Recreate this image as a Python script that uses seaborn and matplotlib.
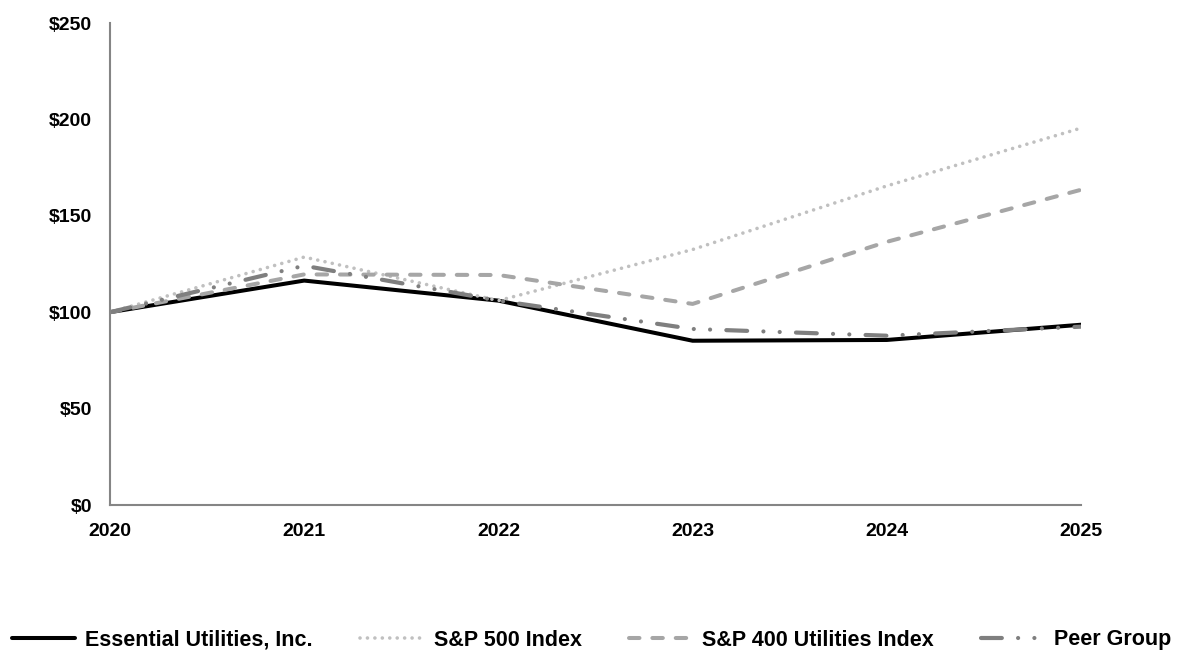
import matplotlib
matplotlib.use("Agg")
import matplotlib.pyplot as plt
import seaborn as sns
import pandas as pd

years = [2020, 2021, 2022, 2023, 2024, 2025]
essential = [100, 116.4, 106.0, 85.2, 85.6, 93.5]
sp500 = [100, 128.6, 106.0, 132.5, 165.5, 195.5]
sp400_util = [100, 119.6, 119.3, 104.3, 136.5, 163.5]
peer_group = [100, 124.1, 106.0, 91.3, 87.8, 92.5]

series_names = ["Essential Utilities, Inc.", "S&P 500 Index",
                "S&P 400 Utilities Index", "Peer Group"]

df = pd.DataFrame({
    "Year": years * 4,
    "Value": essential + sp500 + sp400_util + peer_group,
    "Series": sum([[n] * len(years) for n in series_names], []),
})

sns.set_style("white")
plt.rcParams["font.family"] = ["Liberation Sans", "DejaVu Sans"]
plt.rcParams["font.weight"] = "bold"
plt.rcParams["text.color"] = "black"

fig = plt.figure(figsize=(11.84, 6.56), dpi=100)
ax = fig.add_axes([110 / 1184, 1 - 505 / 656, (1081 - 110) / 1184, (505 - 23) / 656])

styles = {
    "Essential Utilities, Inc.": dict(color="black", linewidth=2.9, linestyle="-"),
    "S&P 500 Index": dict(color="#c0c0c0", linewidth=2.6, linestyle=(0, (0.01, 2.05)),
                          dash_capstyle="round"),
    "S&P 400 Utilities Index": dict(color="#a6a6a6", linewidth=2.9, linestyle=(0, (2.6, 3.2)),
                                    dash_capstyle="round"),
    "Peer Group": dict(color="#7f7f7f", linewidth=3.0,
                       linestyle=(0, (5.0, 3.9, 0.01, 3.9, 0.01, 3.9)),
                       dash_capstyle="round"),
}

for name in series_names:
    sub = df[df["Series"] == name]
    sns.lineplot(data=sub, x="Year", y="Value", ax=ax, label=name, **styles[name])

ax.set_xlim(2020, 2025)
ax.set_ylim(0, 250)
ax.set_yticks([0, 50, 100, 150, 200, 250])
ax.set_yticklabels([f"${v}" for v in [0, 50, 100, 150, 200, 250]],
                   fontsize=14, fontweight="bold")
ax.set_xticks(years)
ax.set_xticklabels([str(y) for y in years], fontsize=14, fontweight="bold")
ax.set_xlabel("")
ax.set_ylabel("")

for side in ["top", "right"]:
    ax.spines[side].set_visible(False)
for side in ["left", "bottom"]:
    ax.spines[side].set_color("#858585")
    ax.spines[side].set_linewidth(1.5)

ax.tick_params(axis="y", direction="out", length=5, width=1.5, color="#858585",
               labelcolor="black", pad=8)
ax.tick_params(axis="x", direction="in", length=6, width=1.5, color="#858585",
               labelcolor="black", pad=13)

handles, labels = ax.get_legend_handles_labels()
ax.get_legend().remove()
leg = fig.legend(handles, labels, loc="center", bbox_to_anchor=(0.5, 1 - 640 / 656), ncol=4,
                 frameon=False, handlelength=2.9, columnspacing=2.2,
                 handletextpad=0.5, prop={"weight": "bold", "size": 15.5})
for t in leg.get_texts():
    t.set_color("black")

fig.savefig("out.png", dpi=100)
